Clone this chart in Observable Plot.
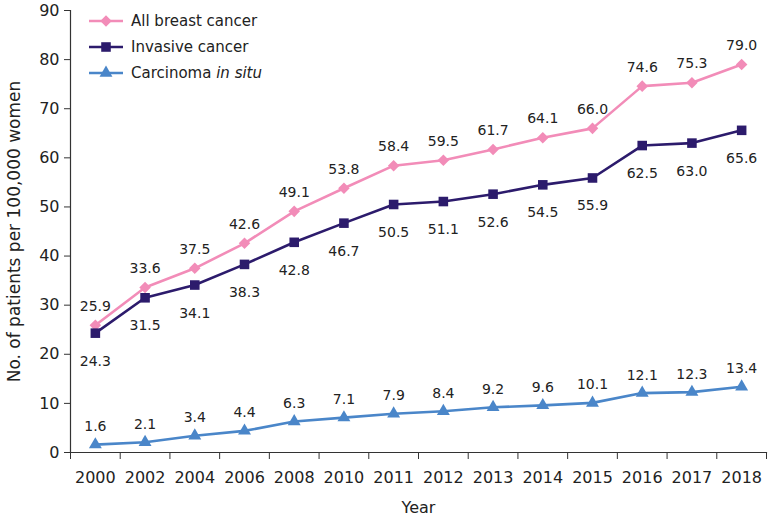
<!DOCTYPE html>
<html>
<head>
<meta charset="utf-8">
<script src="https://cdn.jsdelivr.net/npm/d3@7"></script>
<script src="https://cdn.jsdelivr.net/npm/@observablehq/plot@0.6"></script>
<style>
  body { margin: 0; background: #fff; }
  #wrap { position: relative; width: 768px; height: 515px; font-family: "DejaVu Sans", sans-serif; }
  #legend { position: absolute; left: 88px; top: 8px; font-size: 15px; color: #222; }
  #legend .row { display: flex; align-items: center; height: 26px; }
  #legend svg { margin-right: 7px; }
</style>
</head>
<body>
<div id="wrap"><div id="legend"></div></div>
<script>
const years = ["2000","2002","2004","2006","2008","2010","2011","2012","2013","2014","2015","2016","2017","2018"];
const allBreast = [25.9, 33.6, 37.5, 42.6, 49.1, 53.8, 58.4, 59.5, 61.7, 64.1, 66.0, 74.6, 75.3, 79.0];
const invasive  = [24.3, 31.5, 34.1, 38.3, 42.8, 46.7, 50.5, 51.1, 52.6, 54.5, 55.9, 62.5, 63.0, 65.6];
const inSitu    = [1.6, 2.1, 3.4, 4.4, 6.3, 7.1, 7.9, 8.4, 9.2, 9.6, 10.1, 12.1, 12.3, 13.4];
const yTicks = [0, 10, 20, 30, 40, 50, 60, 70, 80, 90];

const series = [
  {name: "All breast cancer", values: allBreast, color: "#f28cb8", symbol: "diamond2", r: 5.2, dy: -19},
  {name: "Invasive cancer", values: invasive, color: "#2c1b6c", symbol: "square", r: 5.4, dy: 28},
  {name: "Carcinoma in situ", values: inSitu, color: "#4a86c9", symbol: "triangle", r: 4.8, dy: -18}
];
const rows = series.map(s => s.values.map((v, i) => ({i, v, year: years[i]})));

const marks = [
  Plot.frame({anchor: "left", stroke: "#333", strokeWidth: 1.2}),
  Plot.frame({anchor: "bottom", stroke: "#333", strokeWidth: 1.2}),
  Plot.axisY({ticks: yTicks, tickSize: 6, tickPadding: 5, fontSize: 16, stroke: "#333", label: null}),
  Plot.axisY({ticks: [], label: "No. of patients per 100,000 women", fontSize: 17,
    labelAnchor: "center", labelArrow: "none", labelOffset: 63}),
  Plot.axisX({ticks: d3.range(years.length), tickFormat: i => years[i], tickSize: 0, tickPadding: 19, fontSize: 16,
    label: "Year", labelAnchor: "center", labelArrow: "none", labelOffset: 60}),
  Plot.axisX({ticks: d3.range(years.length + 1).map(i => i - 0.5), tickFormat: () => "", tickSize: 7, stroke: "#333", label: null})
];
series.forEach((s, k) => {
  marks.push(Plot.line(rows[k], {x: "i", y: "v", stroke: s.color, strokeWidth: 2.6}));
  marks.push(Plot.dot(rows[k], {x: "i", y: "v", symbol: () => s.symbol, fill: s.color, stroke: "none", r: s.r}));
  marks.push(Plot.text(rows[k], {x: "i", y: "v", text: d => d.v.toFixed(1), dy: s.dy, fontSize: 14, fill: "#222"}));
});

const chart = Plot.plot({
  width: 768,
  height: 515,
  marginLeft: 70,
  marginRight: 2,
  marginTop: 10,
  marginBottom: 63,
  style: {fontFamily: "'DejaVu Sans', sans-serif", fontSize: "16px", color: "#222", background: "#fff"},
  x: {domain: [-0.5, years.length - 0.5], axis: null},
  y: {domain: [0, 90], axis: null},
  symbol: {type: "identity"},
  marks
});
document.getElementById("wrap").prepend(chart);

// legend
const legend = d3.select("#legend");
const symMap = {diamond2: d3.symbolDiamond2, square: d3.symbolSquare, triangle: d3.symbolTriangle};
series.forEach(s => {
  const row = legend.append("div").attr("class", "row");
  const svg = row.append("svg").attr("width", 36).attr("height", 16);
  svg.append("line").attr("x1", 1).attr("x2", 35).attr("y1", 8).attr("y2", 8).attr("stroke", s.color).attr("stroke-width", 2.6);
  svg.append("path").attr("transform", "translate(18,8)")
    .attr("d", d3.symbol(symMap[s.symbol], Math.PI * s.r * s.r)()).attr("fill", s.color);
  const label = row.append("span");
  if (s.name === "Carcinoma in situ") {
    label.append("span").text("Carcinoma ");
    label.append("i").text("in situ");
  } else label.text(s.name);
});
</script>
</body>
</html>
